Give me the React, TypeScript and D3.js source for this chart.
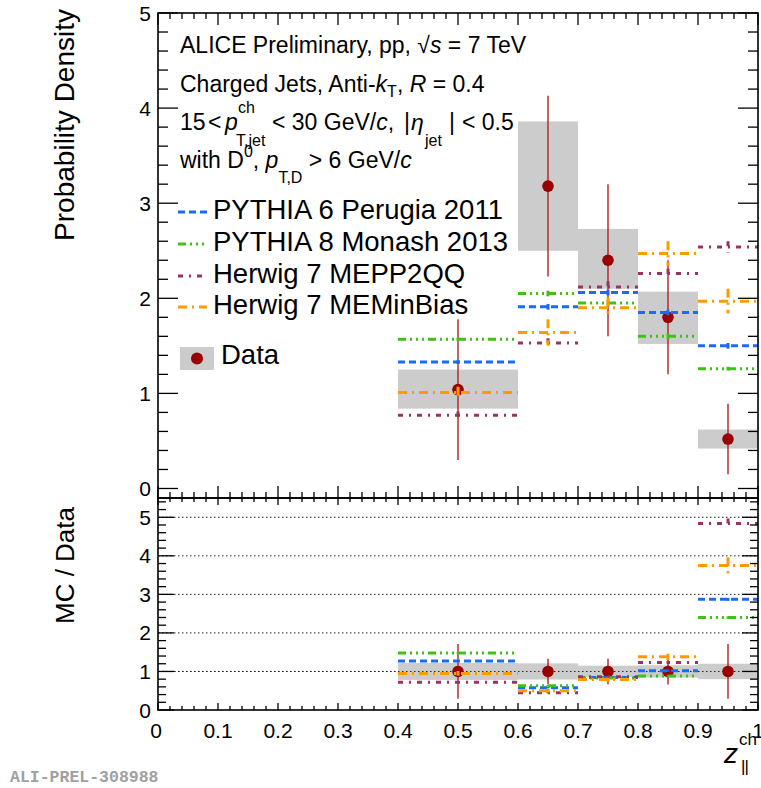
import React from "react";
import * as d3 from "d3";

// ---------- data ----------
const BIN_LO = [0.4, 0.6, 0.7, 0.8, 0.9];
const BIN_HI = [0.6, 0.7, 0.8, 0.9, 1.0];
const BIN_CENTER = [0.5, 0.65, 0.75, 0.85, 0.95];

const DATA_Y = [1.04, 3.18, 2.4, 1.8, 0.52];
const DATA_STAT = [0.74, 0.95, 0.8, 0.6, 0.37];
const DATA_SYS_LO = [0.84, 2.5, 2.1, 1.52, 0.42];
const DATA_SYS_HI = [1.25, 3.86, 2.73, 2.07, 0.62];

const PYTHIA6 = [1.33, 1.91, 2.06, 1.85, 1.5];
const PYTHIA6_ERR = [0.02, 0.03, 0.03, 0.03, 0.03];
const PYTHIA8 = [1.57, 2.05, 1.95, 1.6, 1.26];
const PYTHIA8_ERR = [0.02, 0.03, 0.03, 0.03, 0.02];
const HERWIG_QQ = [0.77, 1.53, 2.12, 2.26, 2.54];
const HERWIG_QQ_ERR = [0.04, 0.05, 0.06, 0.05, 0.06];
const HERWIG_MB = [1.01, 1.64, 1.9, 2.47, 1.97];
const HERWIG_MB_ERR = [0.06, 0.14, 0.11, 0.13, 0.13];

const RATIO_DATA = [1, 1, 1, 1, 1];
const RATIO_STAT = [0.71, 0.33, 0.33, 0.34, 0.71];
const RATIO_SYS = [0.22, 0.21, 0.15, 0.16, 0.2];

const RATIO_PYTHIA6 = [1.27, 0.58, 0.84, 1.02, 2.87];
const RATIO_PYTHIA6_ERR = [0.02, 0.02, 0.02, 0.03, 0.04];
const RATIO_PYTHIA8 = [1.48, 0.63, 0.83, 0.88, 2.4];
const RATIO_PYTHIA8_ERR = [0.02, 0.02, 0.02, 0.02, 0.03];
const RATIO_HERWIG_QQ = [0.72, 0.45, 0.86, 1.23, 4.84];
const RATIO_HERWIG_QQ_ERR = [0.03, 0.02, 0.03, 0.04, 0.13];
const RATIO_HERWIG_MB = [0.95, 0.5, 0.79, 1.38, 3.75];
const RATIO_HERWIG_MB_ERR = [0.06, 0.05, 0.05, 0.08, 0.21];

const MODEL_NAMES = [
  "PYTHIA 6 Perugia 2011",
  "PYTHIA 8 Monash 2013",
  "Herwig 7 MEPP2QQ",
  "Herwig 7 MEMinBias",
];
const MODEL_COLORS = ["#1a6cf2", "#3cc414", "#993366", "#ff9a00"];
const MODEL_DASHES = ["7,4", "8,4,2,4,2,4,2,4", "5,6,2,6", "9,5,2,5"];

const X_TICKS = [0, 0.1, 0.2, 0.3, 0.4, 0.5, 0.6, 0.7, 0.8, 0.9, 1];
const X_TICK_LABELS = ["0", "0.1", "0.2", "0.3", "0.4", "0.5", "0.6", "0.7", "0.8", "0.9", "1"];
const TOP_Y_TICKS = [0, 1, 2, 3, 4, 5];
const BOT_Y_TICKS = [0, 1, 2, 3, 4, 5];

// ---------- layout ----------
const W = 761;
const H = 788;
const FONT = "'Liberation Sans', Arial, Helvetica, sans-serif";

const x = d3.scaleLinear().domain([0, 1]).range([158, 758]);
const yTop = d3.scaleLinear().domain([-0.1, 5]).range([498, 13]);
const yBot = d3.scaleLinear().domain([0, 5.5]).range([710, 498]);

const topModels = [
  { v: PYTHIA6, e: PYTHIA6_ERR },
  { v: PYTHIA8, e: PYTHIA8_ERR },
  { v: HERWIG_QQ, e: HERWIG_QQ_ERR },
  { v: HERWIG_MB, e: HERWIG_MB_ERR },
];
const botModels = [
  { v: RATIO_PYTHIA6, e: RATIO_PYTHIA6_ERR },
  { v: RATIO_PYTHIA8, e: RATIO_PYTHIA8_ERR },
  { v: RATIO_HERWIG_QQ, e: RATIO_HERWIG_QQ_ERR },
  { v: RATIO_HERWIG_MB, e: RATIO_HERWIG_MB_ERR },
];

function Frame({ y, xMajLen, xMinLen, yMajLen, yMinLen }: any) {
  const [y0, y1] = y.range(); // bottom, top
  const xL = x.range()[0];
  const xR = x.range()[1];
  const out: any[] = [];
  const xmin = d3.range(0, 1.0001, 0.02);
  xmin.forEach((t: number, i: number) => {
    const major = Math.abs(t * 10 - Math.round(t * 10)) < 1e-6;
    const len = major ? xMajLen : xMinLen;
    out.push(<line key={"xb" + i} x1={x(t)} x2={x(t)} y1={y0} y2={y0 - len} stroke="black" strokeWidth={1.3} />);
    out.push(<line key={"xt" + i} x1={x(t)} x2={x(t)} y1={y1} y2={y1 + len} stroke="black" strokeWidth={1.3} />);
  });
  const [d0, d1] = y.domain();
  const ymin = d3.range(0, d1 + 1e-6, 0.2);
  ymin.forEach((t: number, i: number) => {
    if (t < d0) return;
    const major = Math.abs(t - Math.round(t)) < 1e-6;
    const len = major ? yMajLen : yMinLen;
    out.push(<line key={"yl" + i} x1={xL} x2={xL + len} y1={y(t)} y2={y(t)} stroke="black" strokeWidth={1.3} />);
    out.push(<line key={"yr" + i} x1={xR} x2={xR - len} y1={y(t)} y2={y(t)} stroke="black" strokeWidth={1.3} />);
  });
  out.push(<rect key="frame" x={xL} y={y1} width={xR - xL} height={y0 - y1} fill="none" stroke="black" strokeWidth={1.6} />);
  return <g>{out}</g>;
}

function DataLayer({ y, vals, stat, sysLo, sysHi, grid }: any) {
  return (
    <g>
      {grid &&
        [1, 2, 3, 4, 5].map((g) => (
          <line key={"g" + g} x1={x(0)} x2={x(1)} y1={y(g)} y2={y(g)} stroke="#222" strokeWidth={1} strokeDasharray="1.5,2.5" />
        ))}
      {vals.map((v: number, i: number) => (
        <rect key={"s" + i} x={x(BIN_LO[i])} width={x(BIN_HI[i]) - x(BIN_LO[i])} y={y(sysHi[i])} height={y(sysLo[i]) - y(sysHi[i])} fill="#cccccc" />
      ))}
      {grid && <line x1={x(0)} x2={x(1)} y1={y(1)} y2={y(1)} stroke="#222" strokeWidth={1} strokeDasharray="1.5,2.5" />}
      {vals.map((v: number, i: number) => (
        <line key={"e" + i} x1={x(BIN_CENTER[i])} x2={x(BIN_CENTER[i])} y1={y(v + stat[i])} y2={y(Math.max(v - stat[i], y.domain()[0]))} stroke="#b22222" strokeWidth={1.4} />
      ))}
      {vals.map((v: number, i: number) => (
        <circle key={"m" + i} cx={x(BIN_CENTER[i])} cy={y(v)} r={5.8} fill="#990000" />
      ))}
    </g>
  );
}

function ModelLayer({ y, models }: any) {
  return (
    <g>
      {models.map((m: any, k: number) => (
        <g key={k} stroke={MODEL_COLORS[k]} strokeWidth={3} fill="none">
          {m.v.map((v: number, i: number) => (
            <g key={i}>
              <line x1={x(BIN_LO[i])} x2={x(BIN_HI[i])} y1={y(v)} y2={y(v)} strokeDasharray={MODEL_DASHES[k]} />
              <line x1={x(BIN_CENTER[i])} x2={x(BIN_CENTER[i])} y1={y(v + m.e[i])} y2={y(v - m.e[i])} strokeDasharray={MODEL_DASHES[k]} />
            </g>
          ))}
        </g>
      ))}
    </g>
  );
}

export default function App() {
  const topYLab = TOP_Y_TICKS.map((t) => (
    <text key={"ty" + t} x={151} y={yTop(t) + 7.5} textAnchor="end" fontSize={21}>{t}</text>
  ));
  const botYLab = BOT_Y_TICKS.map((t) => (
    <text key={"by" + t} x={151} y={yBot(t) + 7.5} textAnchor="end" fontSize={21}>{t}</text>
  ));
  const xLab = X_TICKS.map((t, i) => (
    <text key={"xl" + i} x={x(t) - (i === 0 ? 2 : 0)} y={738} textAnchor="middle" fontSize={21}>{X_TICK_LABELS[i]}</text>
  ));
  const legendY = [219, 251, 283, 314];
  return (
    <svg width={W} height={H} viewBox={`0 0 ${W} ${H}`} style={{ position: "absolute", left: 0, top: 0, background: "white" }} fontFamily={FONT}>
      <rect x={0} y={0} width={W} height={H} fill="white" />
      {/* top panel */}
      <DataLayer y={yTop} vals={DATA_Y} stat={DATA_STAT} sysLo={DATA_SYS_LO} sysHi={DATA_SYS_HI} />
      <ModelLayer y={yTop} models={topModels} />
      <Frame y={yTop} xMajLen={12} xMinLen={6} yMajLen={20} yMinLen={10} />
      {/* bottom panel */}
      <DataLayer
        y={yBot}
        vals={RATIO_DATA}
        stat={RATIO_STAT}
        sysLo={RATIO_DATA.map((v, i) => v - RATIO_SYS[i])}
        sysHi={RATIO_DATA.map((v, i) => v + RATIO_SYS[i])}
        grid
      />
      <ModelLayer y={yBot} models={botModels} />
      <Frame y={yBot} xMajLen={7} xMinLen={4} yMajLen={16} yMinLen={8} />

      <g fill="black">
        {topYLab}
        {botYLab}
        {xLab}
      </g>

      {/* axis titles */}
      <text transform="translate(74,9) rotate(-90)" textAnchor="end" fontSize={28}>Probability Density</text>
      <text transform="translate(74,507) rotate(-90)" textAnchor="end" fontSize={26}>MC / Data</text>
      <text fontSize={28}>
        <tspan x={724} y={763} fontStyle="italic">z</tspan>
        <tspan x={739} y={745} fontSize={17}>ch</tspan>
        <tspan x={741} y={772} fontSize={17} letterSpacing={-1}>||</tspan>
      </text>

      {/* info text */}
      <g fontSize={23} fill="black">
        <text x={180} y={53}>
          ALICE Preliminary, pp, √<tspan fontStyle="italic">s</tspan> = 7 TeV
        </text>
        <text x={180} y={92}>
          Charged Jets, Anti-<tspan fontStyle="italic">k</tspan>
          <tspan fontSize={16} dy={5}>T</tspan>
          <tspan dy={-5}>, </tspan>
          <tspan fontStyle="italic">R</tspan> = 0.4
        </text>
        <text y={130}>
          <tspan x={180}>15</tspan>
          <tspan x={208}>&lt;</tspan>
          <tspan x={225} fontStyle="italic">p</tspan>
          <tspan x={238} y={113} fontSize={16}>ch</tspan>
          <tspan x={236} y={146} fontSize={16}>T,jet</tspan>
          <tspan x={272} y={130}>&lt; 30 GeV/</tspan>
          <tspan fontStyle="italic">c</tspan>
          <tspan>,</tspan>
          <tspan x={404}>|</tspan>
          <tspan x={411} fontStyle="italic">η</tspan>
          <tspan x={425} y={146} fontSize={16}>jet</tspan>
          <tspan x={449} y={130}>|</tspan>
          <tspan x={462}>&lt; 0.5</tspan>
        </text>
        <text y={168}>
          <tspan x={180}>with D</tspan>
          <tspan dy={-11} fontSize={16}>0</tspan>
          <tspan dy={11}>, </tspan>
          <tspan fontStyle="italic">p</tspan>
          <tspan dy={15} fontSize={16}>T,D</tspan>
          <tspan dy={-15}> &gt; 6 GeV/</tspan>
          <tspan fontStyle="italic">c</tspan>
        </text>
      </g>

      {/* legend */}
      <g>
        {MODEL_NAMES.map((n, k) => (
          <g key={k}>
            <line x1={178} x2={207} y1={legendY[k] - 7} y2={legendY[k] - 7} stroke={MODEL_COLORS[k]} strokeWidth={3} strokeDasharray={MODEL_DASHES[k]} />
            <text x={213} y={legendY[k]} fontSize={27.5}>{n}</text>
          </g>
        ))}
        <rect x={180} y={347} width={34} height={23} fill="#cccccc" />
        <circle cx={197} cy={358.5} r={6} fill="#990000" />
        <text x={221} y={364} fontSize={27.5}>Data</text>
      </g>

      <text x={10} y={782} fontFamily="'Liberation Mono', 'Courier New', monospace" fontWeight="bold" fontSize={16.5} fill="#a0a0a0">
        ALI-PREL-308988
      </text>
    </svg>
  );
}
